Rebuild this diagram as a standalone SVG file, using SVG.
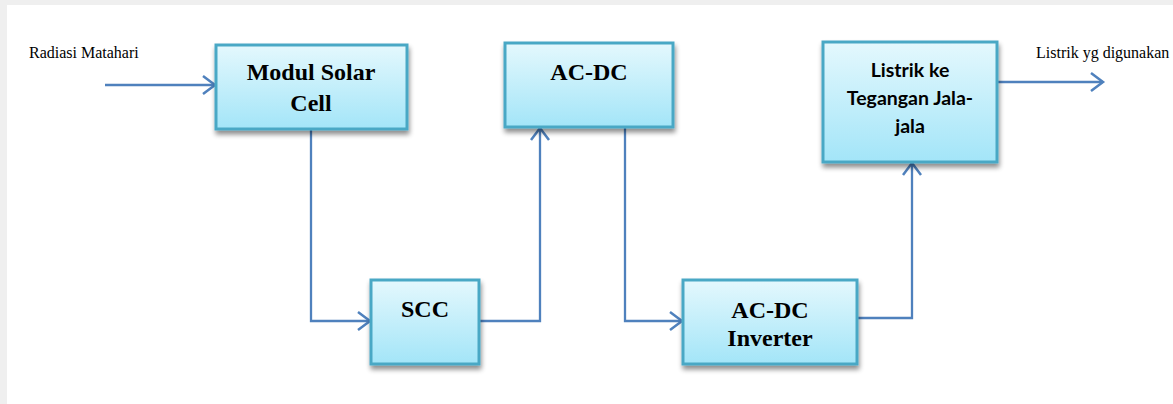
<svg xmlns="http://www.w3.org/2000/svg" width="1173" height="404" viewBox="0 0 1173 404">
<defs>
<linearGradient id="g" x1="0" y1="0" x2="0" y2="1">
<stop offset="0" stop-color="#e4f8fd"/>
<stop offset="1" stop-color="#a3e5f8"/>
</linearGradient>
<filter id="sh" x="-10%" y="-10%" width="130%" height="130%">
<feGaussianBlur in="SourceAlpha" stdDeviation="2.5"/>
<feOffset dx="1" dy="4" result="b"/>
<feComponentTransfer><feFuncA type="linear" slope="0.45"/></feComponentTransfer>
<feMerge><feMergeNode/><feMergeNode in="SourceGraphic"/></feMerge>
</filter>
<marker id="arr" markerWidth="16" markerHeight="22" refX="13" refY="11" orient="auto" markerUnits="userSpaceOnUse">
<path d="M1,2 L13,11 L1,20" fill="none" stroke="#4f81bd" stroke-width="2.5"/>
</marker>
</defs>
<style>
.box{fill:url(#g);stroke:#4aa8c5;stroke-width:3;filter:url(#sh)}
.t{font-family:"Liberation Serif","Times New Roman",serif;font-weight:bold;font-size:24px;fill:#000;text-anchor:middle}
.s{font-family:Lato,"Open Sans",sans-serif;font-weight:bold;font-size:19.5px;fill:#000;text-anchor:middle}
.l{font-family:"Liberation Serif","Times New Roman",serif;font-size:16px;fill:#000}
.c{fill:none;stroke:#4f81bd;stroke-width:2.3}
</style>
<rect x="0" y="0" width="1173" height="404" fill="#efefef"/>
<rect x="7" y="5" width="1166" height="399" fill="#ffffff"/>
<text class="l" x="29" y="58">Radiasi Matahari</text>
<text class="l" x="1036" y="58">Listrik yg digunakan</text>
<g id="connectors">
<path class="c" d="M105,85 H215" marker-end="url(#arr)"/>
<path class="c" d="M311,129 V321 H370" marker-end="url(#arr)"/>
<path class="c" d="M480,321 H540 V128" marker-end="url(#arr)"/>
<path class="c" d="M625,128 V321 H682" marker-end="url(#arr)"/>
<path class="c" d="M858,318 H912 V163" marker-end="url(#arr)"/>
<path class="c" d="M998,82 H1103" marker-end="url(#arr)"/>
</g>
<g id="modul">
<rect class="box" x="216" y="45" width="191" height="84"/>
<text class="t" x="311" y="80">Modul Solar</text>
<text class="t" x="311" y="111">Cell</text>
</g>
<g id="acdc">
<rect class="box" x="505" y="43" width="168" height="84"/>
<text class="t" x="589" y="80">AC-DC</text>
</g>
<g id="listrik">
<rect class="box" x="823" y="42" width="174" height="120"/>
<text class="s" x="910" y="77">Listrik ke</text>
<text class="s" x="910" y="105">Tegangan Jala-</text>
<text class="s" x="910" y="133">jala</text>
</g>
<g id="scc">
<rect class="box" x="371" y="280" width="108" height="84"/>
<text class="t" x="425" y="317">SCC</text>
</g>
<g id="inverter">
<rect class="box" x="683" y="280" width="174" height="84"/>
<text class="t" x="770" y="318">AC-DC</text>
<text class="t" x="770" y="346">Inverter</text>
</g>
</svg>
